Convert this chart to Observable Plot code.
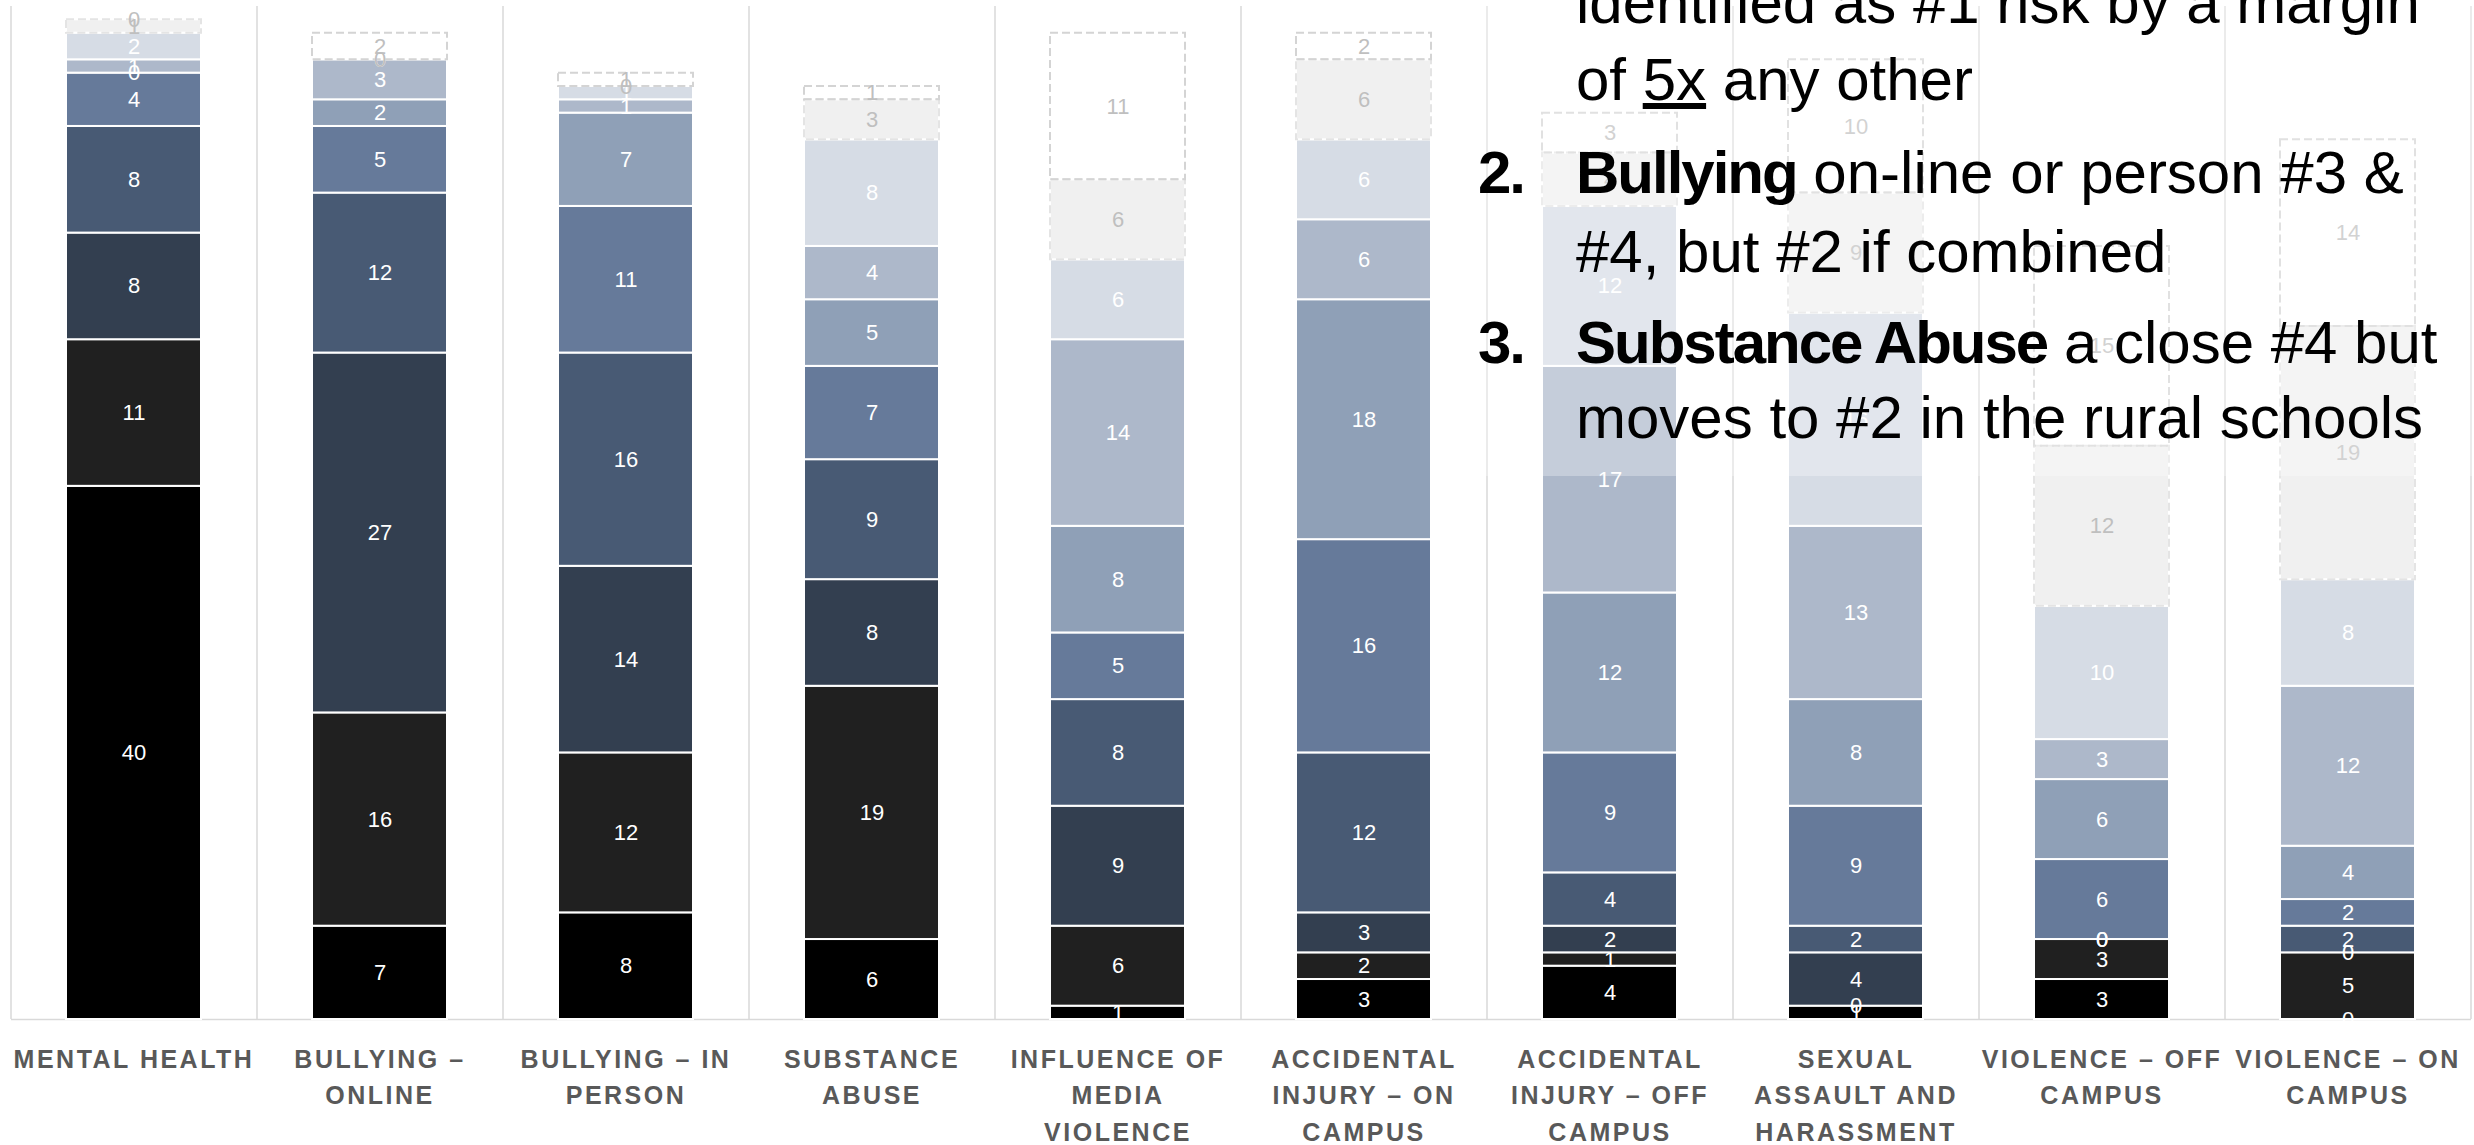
<!DOCTYPE html>
<html>
<head>
<meta charset="utf-8">
<script src="https://cdn.jsdelivr.net/npm/d3@7"></script>
<script src="https://cdn.jsdelivr.net/npm/@observablehq/plot@0.6"></script>
<style>
  html, body { margin: 0; padding: 0; background: #fff; overflow: hidden; }
  #wrap { position: relative; width: 2474px; height: 1145px; }
  #wrap > svg.notes { position: absolute; left: 0; top: 0; pointer-events: none; }
  g[aria-label="x-axis tick label"] text { letter-spacing: 2.5px; }
  .notes text { font-family: "Liberation Sans", Arial, sans-serif; font-size: 60px; fill: #000; }
  .notes .b { font-weight: bold; letter-spacing: -2px; }
</style>
</head>
<body>
<div id="wrap"></div>
<script>
// Risk categories, in the order they appear along the x axis
const categories = [
  "Mental Health", "Bullying – Online", "Bullying – In Person", "Substance Abuse",
  "Influence of Media Violence", "Accidental Injury – On Campus", "Accidental Injury – Off Campus",
  "Sexual Assault and Harassment", "Violence – Off Campus", "Violence – On Campus"
];
// Wrapped, upper-case tick labels
const tickLabels = [
  "MENTAL HEALTH", "BULLYING –\nONLINE", "BULLYING – IN\nPERSON", "SUBSTANCE\nABUSE",
  "INFLUENCE OF\nMEDIA\nVIOLENCE", "ACCIDENTAL\nINJURY – ON\nCAMPUS", "ACCIDENTAL\nINJURY – OFF\nCAMPUS",
  "SEXUAL\nASSAULT AND\nHARASSMENT", "VIOLENCE – OFF\nCAMPUS", "VIOLENCE – ON\nCAMPUS"
];

// Number of respondents giving each category a given rank (rank 1 = top risk)
const ranks = ["Rank 1", "Rank 2", "Rank 3", "Rank 4", "Rank 5", "Rank 6", "Rank 7", "Rank 8", "Rank 9", "Rank 10"];
const rank1  = [40,  7,  8,  6,  1,  3,  4,  1,  3,  0];
const rank2  = [11, 16, 12, 19,  6,  2,  1,  0,  3,  5];
const rank3  = [ 8, 27, 14,  8,  9,  3,  2,  4,  0,  0];
const rank4  = [ 8, 12, 16,  9,  8, 12,  4,  2,  0,  2];
const rank5  = [ 4,  5, 11,  7,  5, 16,  9,  9,  6,  2];
const rank6  = [ 0,  2,  7,  5,  8, 18, 12,  8,  6,  4];
const rank7  = [ 1,  3,  1,  4, 14,  6, 17, 13,  3, 12];
const rank8  = [ 2,  0,  1,  8,  6,  6, 12, 16, 10,  8];
const rank9  = [ 1,  0,  0,  3,  6,  6,  4,  9, 12, 19];
const rank10 = [ 0,  2,  1,  1, 11,  2,  3, 10, 15, 14];
const series = [rank1, rank2, rank3, rank4, rank5, rank6, rank7, rank8, rank9, rank10];

const rankColors = ["#000000", "#202020", "#333f50", "#485a74", "#667a9a", "#8fa0b7", "#adb8ca", "#d6dce5", "#f0f0f0", "#ffffff"];

// Long table: one row per category and rank
const rows = [];
series.forEach((vals, r) => vals.forEach((v, i) => rows.push({category: categories[i], rank: ranks[r], r, value: v})));

const W = 2474, H = 1145;
const marginLeft = 11, marginRight = 3, marginTop = 6, marginBottom = 126;
const step = (W - marginLeft - marginRight) / categories.length;
const labelOf = new Map(categories.map((c, i) => [c, tickLabels[i]]));
const stack = (o) => Plot.stackY({x: "category", y: "value", z: "rank", ...o});

const chart = Plot.plot({
  width: W, height: H,
  marginLeft, marginRight, marginTop, marginBottom,
  style: {background: "white", fontFamily: "'Liberation Sans', Arial, sans-serif"},
  x: {domain: categories, paddingInner: 0.45, paddingOuter: 0.225},
  y: {domain: [0, 76], axis: null},
  color: {type: "identity"},
  opacity: {type: "identity"},
  marks: [
    // category separators
    Plot.ruleX(categories, {x: d => d, dx: -step / 2, stroke: "#d9d9d9", strokeWidth: 1.5}),
    Plot.ruleX(categories.slice(-1), {x: d => d, dx: step / 2, stroke: "#d9d9d9", strokeWidth: 1.5}),
    Plot.ruleY([0], {stroke: "#d9d9d9", strokeWidth: 1.5}),
    // stacked segments
    Plot.barY(rows, stack({fill: d => rankColors[d.r], stroke: "white", strokeWidth: 2})),
    // dashed outline on the two lowest ranks
    Plot.barY(rows, stack({fill: "none", stroke: d => d.r === 9 ? "#d4d4d4" : "#e4e4e4",
      strokeOpacity: d => d.r >= 8 ? 1 : 0, strokeWidth: 2, strokeDasharray: "8,4"})),
    // value labels
    Plot.text(rows, stack({text: d => String(d.value), fill: d => d.r >= 8 ? "#bfbfbf" : "#ffffff",
      fontSize: 22})),
    Plot.axisX({tickSize: 0, tickPadding: 23, fontSize: 25, fontWeight: "bold", fill: "#595959",
      lineHeight: 1.45, label: null, tickFormat: d => labelOf.get(d),
      fontFamily: "'Liberation Sans', Arial, sans-serif"})
  ]
});

const wrap = document.getElementById("wrap");
wrap.appendChild(chart);

// Key findings panel laid over the right-hand side of the chart
const notes = d3.select(wrap).append("svg").attr("class", "notes").attr("width", W).attr("height", H);
notes.append("rect").attr("x", 1465).attr("y", 0).attr("width", W - 1465).attr("height", 476)
  .attr("fill", "white").attr("fill-opacity", 0.3);
const textX = 1576, numX = 1478;
const lines = [
  {y: 23, parts: [["identified as #1 risk by a margin"]]},
  {y: 100, parts: [["of "], ["5x", "u"], [" any other"]]},
  {y: 193, num: "2.", parts: [["Bullying", "b"], [" on-line or person #3 &"]]},
  {y: 272, parts: [["#4, but #2 if combined"]]},
  {y: 363, num: "3.", parts: [["Substance Abuse", "b"], [" a close #4 but"]]},
  {y: 438, parts: [["moves to #2 in the rural schools"]]}
];
for (const line of lines) {
  if (line.num) notes.append("text").attr("class", "b").attr("x", numX).attr("y", line.y).text(line.num);
  const t = notes.append("text").attr("x", textX).attr("y", line.y).attr("xml:space", "preserve");
  for (const [s, k] of line.parts) {
    const sp = t.append("tspan").text(s);
    if (k === "b") sp.attr("class", "b");
    if (k === "u") sp.attr("text-decoration", "underline");
  }
}
</script>
</body>
</html>
